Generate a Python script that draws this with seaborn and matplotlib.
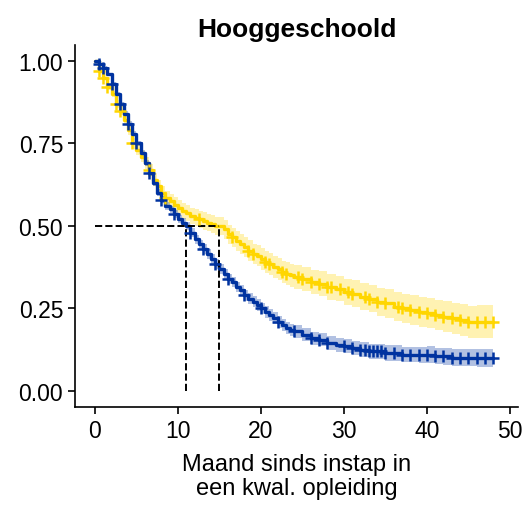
import numpy as np
import pandas as pd
import matplotlib
matplotlib.use("Agg")
import matplotlib.pyplot as plt
import seaborn as sns

# Kaplan-Meier estimates per group (months since start, survival)
t_half = [i * 0.5 for i in range(49)]          # 0 .. 24 by 0.5
t_full = list(range(25, 49))                     # 25 .. 48
t_grid = t_half + t_full

s_yellow = [1.00, 0.97, 0.95, 0.92, 0.90, 0.87, 0.85, 0.82, 0.79, 0.75, 0.73, 0.71, 0.69, 0.67, 0.64, 0.62, 0.60,
            0.585, 0.575, 0.565, 0.555, 0.545, 0.54, 0.53, 0.525, 0.52, 0.515, 0.51, 0.505, 0.50, 0.50, 0.49,
            0.475, 0.465, 0.455, 0.445, 0.435, 0.425, 0.415, 0.41, 0.40, 0.39, 0.385, 0.375, 0.37, 0.36, 0.355, 0.35, 0.345,
            0.34, 0.33, 0.325, 0.315, 0.31, 0.30, 0.295, 0.285, 0.28, 0.27, 0.265, 0.255, 0.25, 0.245, 0.24, 0.235,
            0.23, 0.225, 0.22, 0.215, 0.21, 0.21, 0.21, 0.21]
s_blue = [1.00, 0.99, 0.98, 0.96, 0.93, 0.90, 0.87, 0.84, 0.81, 0.78, 0.75, 0.72, 0.69, 0.66, 0.63, 0.60, 0.58,
          0.56, 0.55, 0.535, 0.52, 0.51, 0.50, 0.48, 0.46, 0.445, 0.43, 0.415, 0.40, 0.385, 0.37, 0.355,
          0.34, 0.33, 0.315, 0.305, 0.29, 0.28, 0.27, 0.26, 0.25, 0.24, 0.23, 0.22, 0.21, 0.20, 0.19, 0.185, 0.18,
          0.17, 0.16, 0.155, 0.145, 0.14, 0.135, 0.13, 0.125, 0.12, 0.12, 0.115, 0.115, 0.11, 0.11, 0.11, 0.11,
          0.105, 0.105, 0.10, 0.10, 0.10, 0.10, 0.10, 0.10]
# confidence half-width at start / end of follow-up
ci_yellow = [0.0, 0.05]
ci_blue = [0.0, 0.027]

cens_yellow = [0.5, 1, 1.5, 2.5, 3, 4.5, 6.5, 8.5, 12.5, 16.5, 18.5, 19, 20.5, 21, 22.5, 23, 24.5, 25, 26, 27, 28, 28.5,
               29.5, 30.5, 31, 32.5, 33, 34, 35, 36.5, 37, 38, 39, 40, 41, 42, 43, 44, 45, 46, 47, 48]
cens_blue = [0.5, 1, 2, 3, 4, 5, 6.5, 8, 9.5, 11.5, 13, 14.5, 16, 18, 20, 22, 24, 26, 27, 28, 30, 31, 32, 32.5, 33,
             33.5, 34, 34.5, 35, 36, 37, 38, 39, 40, 41, 42, 43, 44, 45, 46, 47, 48]

yellow = "#FFD600"
blue = "#0033A0"

sns.set_style("white")
plt.rcParams["font.family"] = ["Liberation Sans", "DejaVu Sans"]
plt.rcParams["text.color"] = "black"
plt.rcParams["xtick.color"] = "black"
plt.rcParams["ytick.color"] = "black"
plt.rcParams["axes.labelcolor"] = "black"

fig, ax = plt.subplots(figsize=(5.32, 5.06), dpi=100)
fig.subplots_adjust(left=0.141, right=0.974, top=0.91, bottom=0.193)

for s, ci, cens, c in [(s_yellow, ci_yellow, cens_yellow, yellow), (s_blue, ci_blue, cens_blue, blue)]:
    t = np.array(t_grid); s = np.array(s)
    w = ci[0] + (ci[1] - ci[0]) * np.sqrt(t / 48)
    ax.fill_between(t, s - w, np.minimum(s + w, 1.0), step="post", color=c, alpha=0.3, lw=0)
    df = pd.DataFrame({"t": t, "s": s})
    sns.lineplot(data=df, x="t", y="s", drawstyle="steps-post", color=c, lw=2.4, ax=ax)
    idx = np.searchsorted(t, cens, side="right") - 1
    ax.scatter(cens, s[idx], marker="+", s=80, color=c, linewidths=1.8, zorder=3)

# median lines
ax.plot([0, 15], [0.5, 0.5], ls="--", color="black", lw=1.4)
ax.plot([11, 11], [0, 0.5], ls="--", color="black", lw=1.4)
ax.plot([15, 15], [0, 0.5], ls="--", color="black", lw=1.4)

ax.set_xlim(-2.4, 51)
ax.set_ylim(-0.05, 1.05)
ax.set_xticks([0, 10, 20, 30, 40, 50])
ax.set_yticks([0, 0.25, 0.5, 0.75, 1.0])
ax.set_yticklabels(["0.00", "0.25", "0.50", "0.75", "1.00"])
ax.tick_params(labelsize=16.5, length=5, width=1.2, left=True, bottom=True)
for sp in ["top", "right"]:
    ax.spines[sp].set_visible(False)
for sp in ["left", "bottom"]:
    ax.spines[sp].set_color("black")
    ax.spines[sp].set_linewidth(1.2)
ax.set_ylabel("")
ax.set_xlabel("Maand sinds instap in\neen kwal. opleiding", fontsize=17, linespacing=1.1, labelpad=8)
ax.set_title("Hooggeschoold", fontsize=19, fontweight="bold")

fig.savefig("out.png", dpi=100)
